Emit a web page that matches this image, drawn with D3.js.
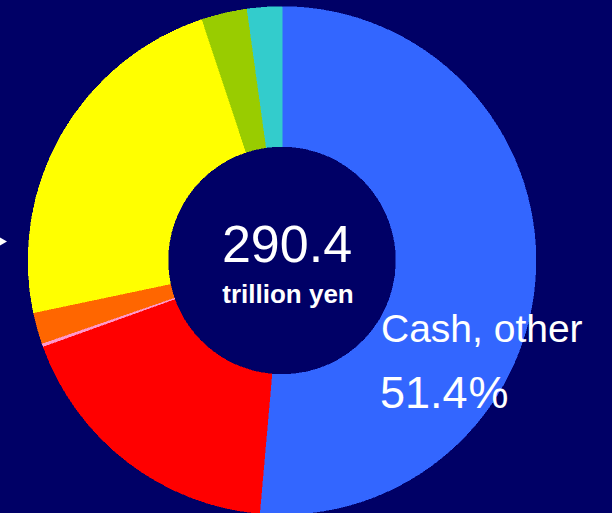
<!DOCTYPE html>
<html>
<head>
<meta charset="utf-8">
<script src="https://cdn.jsdelivr.net/npm/d3@7/dist/d3.min.js"></script>
<style>
  html, body { margin: 0; padding: 0; background: #000066; }
  svg { display: block; }
  text { font-family: "Liberation Sans", Arial, sans-serif; fill: #ffffff; }
</style>
</head>
<body>
<svg id="chart" width="612" height="513"></svg>
<script>
// Portfolio breakdown, shares in percent, clockwise from 12 o'clock
const categories = ["Cash, other", "Segment 2", "Segment 3", "Segment 4", "Segment 5", "Segment 6", "Segment 7"];
const shares = [51.4, 18.1, 0.2, 2.0, 23.2, 2.9, 2.2];
const colors = ["#3366ff", "#ff0000", "#ff99cc", "#ff6600", "#ffff00", "#99cc00", "#33cccc"];
const totalValue = "290.4";
const totalUnit = "trillion yen";

const svg = d3.select("#chart");
const W = 612, H = 513;

svg.append("rect").attr("width", W).attr("height", H).attr("fill", "#000066");

const cx = 282, cy = 260.5;
const outerR = 254, innerR = 114;

const data = categories.map((c, i) => ({ name: c, value: shares[i], color: colors[i] }));

const pie = d3.pie().value(d => d.value).sort(null).startAngle(0).endAngle(2 * Math.PI);
const arc = d3.arc().innerRadius(innerR).outerRadius(outerR);

const g = svg.append("g").attr("transform", `translate(${cx},${cy})`);

g.selectAll("path.slice")
  .data(pie(data))
  .join("path")
  .attr("class", "slice")
  .attr("d", arc)
  .attr("fill", d => d.data.color)
  .attr("stroke", d => d.data.color)
  .attr("stroke-width", 0.5)
  .attr("shape-rendering", "crispEdges");

// total in the hole
g.append("text")
  .attr("x", 5).attr("y", 1.5)
  .attr("text-anchor", "middle")
  .attr("font-size", 52)
  .text(totalValue);

g.append("text")
  .attr("x", 6).attr("y", 42.5)
  .attr("text-anchor", "middle")
  .attr("font-size", 26)
  .attr("font-weight", "bold")
  .text(totalUnit);

// label for the largest slice
const main = data[0];
svg.append("text")
  .attr("x", 381).attr("y", 342)
  .attr("font-size", 39)
  .text(main.name);

svg.append("text")
  .attr("x", 380).attr("y", 408)
  .attr("font-size", 45)
  .text(d3.format(".1f")(main.value))
  .append("tspan")
  .attr("dx", 1)
  .text("%");

// small pointer at the left margin
svg.append("path")
  .attr("d", d3.line()([[0, 237.5], [7, 241.5], [0, 245.5]]) + "Z")
  .attr("fill", "#ffffff");
</script>
</body>
</html>
